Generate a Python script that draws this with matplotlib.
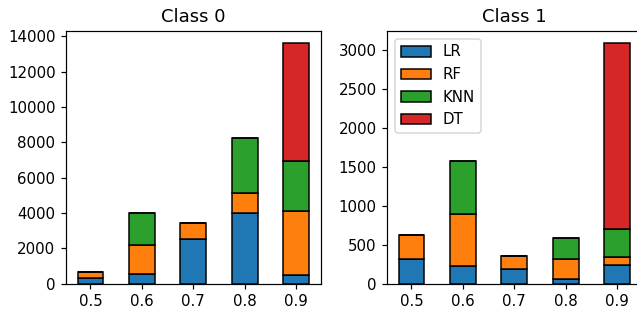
import matplotlib
matplotlib.use("Agg")
import matplotlib.pyplot as plt
import numpy as np

thresholds = ["0.5", "0.6", "0.7", "0.8", "0.9"]
models = ["LR", "RF", "KNN", "DT"]
colors = ["#1f77b4", "#ff7f0e", "#2ca02c", "#d62728"]

class0_LR = [310, 550, 2550, 4000, 510]
class0_RF = [315, 1620, 870, 1120, 3620]
class0_KNN = [0, 1810, 0, 3150, 2830]
class0_DT = [0, 0, 0, 0, 6670]

class1_LR = [310, 220, 190, 60, 235]
class1_RF = [310, 670, 160, 260, 110]
class1_KNN = [0, 680, 0, 265, 350]
class1_DT = [0, 0, 0, 0, 2395]

DPI = 108
W, H = 637, 309
fig = plt.figure(figsize=(W / DPI, H / DPI), dpi=DPI)
ax0 = fig.add_axes([66 / W, (H - 283.5) / H, 254.7 / W, 252.5 / H])
ax1 = fig.add_axes([387 / W, (H - 283.5) / H, 254.7 / W, 252.5 / H])

x = np.arange(len(thresholds))

def draw(ax, series, title, legend=False):
    bottom = np.zeros(len(thresholds))
    for name, vals, c in zip(models, series, colors):
        vals = np.array(vals, dtype=float)
        ax.bar(x, vals, 0.5, bottom=bottom, color=c, edgecolor="black",
               linewidth=1, label=name)
        bottom += vals
    ax.set_xticks(x)
    ax.set_xticklabels(thresholds)
    ax.set_title(title, fontsize=12)
    if legend:
        ax.legend(loc="upper left")

draw(ax0, [class0_LR, class0_RF, class0_KNN, class0_DT], "Class 0")
draw(ax1, [class1_LR, class1_RF, class1_KNN, class1_DT], "Class 1", legend=True)

fig.savefig("out.png", dpi=DPI)
